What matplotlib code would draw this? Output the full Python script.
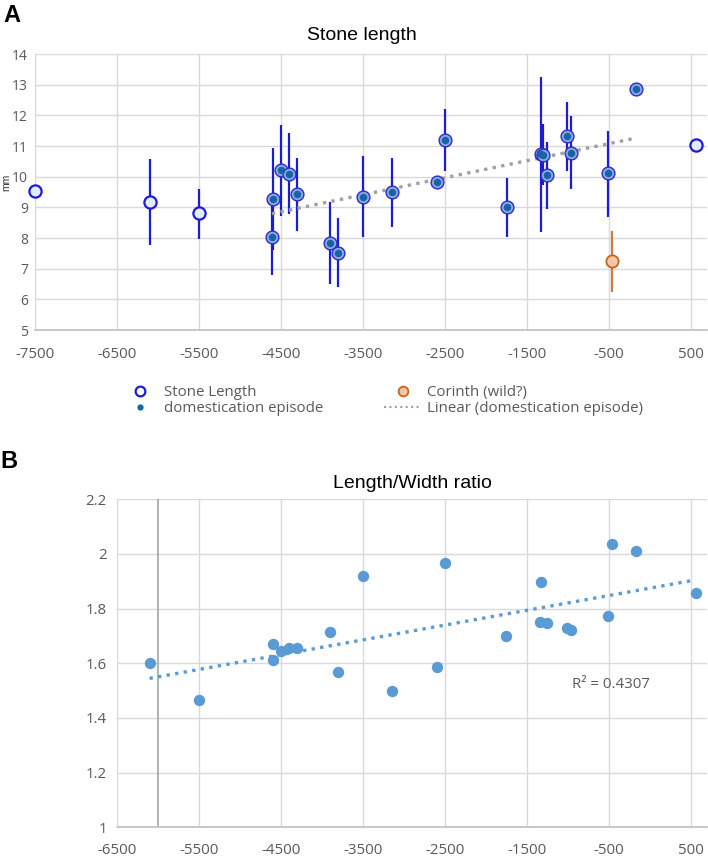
import numpy as np
import matplotlib
matplotlib.use("Agg")
import matplotlib.pyplot as plt
from matplotlib.lines import Line2D

plt.rcParams['font.family'] = ['Open Sans', 'DejaVu Sans']
plt.rcParams['axes.unicode_minus'] = False

# ---- panel A data: stone length (mm) ----
stone_x = [-7500, -6100, -5500, 560]
stone_y = [9.53, 9.17, 8.80, 11.04]
stone_lo = [np.nan, 7.76, 7.98, np.nan]
stone_hi = [np.nan, 10.57, 9.61, np.nan]

dom_x = [-4600, -4610, -4500, -4400, -4300, -3900, -3800, -3500, -3150, -2600,
         -2500, -1750, -1335, -1310, -1260, -1010, -960, -510, -170]
dom_y = [9.27, 8.04, 10.21, 10.10, 9.44, 7.85, 7.52, 9.35, 9.50, 9.84,
         11.20, 9.00, 10.73, 10.70, 10.05, 11.32, 10.78, 10.11, 12.86]
dom_lo = [7.62, 6.78, 8.72, 8.77, 8.24, 6.50, 6.39, 8.02, 8.37, np.nan,
          10.20, 8.02, 8.21, 9.73, 8.95, 10.19, 9.59, 8.70, np.nan]
dom_hi = [10.93, 9.30, 11.67, 11.42, 10.61, 9.18, 8.65, 10.68, 10.62, np.nan,
          12.21, 9.95, 13.24, 11.71, 11.14, 12.43, 11.97, 11.50, np.nan]

corinth_x = [-460]
corinth_y = [7.24]
corinth_lo = [6.23]
corinth_hi = [8.23]

# ---- panel B data: length / width ratio ----
ratio_x = [-6100, -5500, -4600, -4600, -4500, -4400, -4300, -3900, -3800, -3500,
           -3150, -2600, -2500, -1750, -1330, -1340, -1260, -1010, -960, -510,
           -460, -170, 560]
ratio_y = [1.601, 1.467, 1.671, 1.611, 1.645, 1.657, 1.657, 1.713, 1.567, 1.920,
           1.500, 1.586, 1.966, 1.701, 1.896, 1.752, 1.749, 1.730, 1.722, 1.773,
           2.035, 2.012, 1.856]

a_xticks = list(range(-7500, 501, 1000))
a_yticks = list(range(5, 15))
b_xticks = list(range(-6500, 501, 1000))
b_yticks = [1, 1.2, 1.4, 1.6, 1.8, 2, 2.2]

grid_c = '#d9d9d9'
tick_c = '#595959'


def yerr(y, lo, hi):
    y, lo, hi = np.array(y), np.array(lo), np.array(hi)
    return np.nan_to_num(np.vstack([y - lo, hi - y]))


def style_axes(ax, xticks, yticks):
    ax.set_xticks(xticks)
    ax.set_yticks(yticks)
    ax.grid(True, color=grid_c, lw=1.0, zorder=0)
    ax.set_axisbelow(True)
    for s in ['top', 'right', 'left']:
        ax.spines[s].set_visible(False)
    ax.spines['bottom'].set_color('#bfbfbf')
    ax.spines['bottom'].set_linewidth(1.2)
    ax.tick_params(length=0, colors=tick_c, labelsize=10.8)
    ax.yaxis.set_major_formatter(matplotlib.ticker.FormatStrFormatter('%g'))


fig = plt.figure(figsize=(7.08, 8.59), dpi=100)

# ================= panel A =================
axA = fig.add_axes([35 / 708, 1 - 330 / 859, 672.4 / 708, 276 / 859])
axA.set_xlim(-7500, 700)
axA.set_ylim(5, 14)
style_axes(axA, a_xticks, a_yticks)
axA.tick_params(axis='x', pad=12)
axA.tick_params(axis='y', pad=5, labelsize=10)

blue = '#1c1cd6'
axA.errorbar(stone_x, stone_y, yerr=yerr(stone_y, stone_lo, stone_hi), fmt='none',
             ecolor=blue, elinewidth=1.6, zorder=2)
axA.errorbar(dom_x, dom_y, yerr=yerr(dom_y, dom_lo, dom_hi), fmt='none',
             ecolor=blue, elinewidth=1.6, zorder=2)
axA.errorbar(corinth_x, corinth_y, yerr=yerr(corinth_y, corinth_lo, corinth_hi),
             fmt='none', ecolor='#c97a45', elinewidth=1.6, zorder=2)

# linear trend of the domestication episode points
k, b = np.polyfit(dom_x, dom_y, 1)
tx = np.array([min(dom_x), max(dom_x)])
axA.plot(tx, k * tx + b, ls=(0, (1, 1.6)), color='#a0a0a0', lw=2.4, zorder=3)

axA.plot(stone_x, stone_y, 'o', ms=8.8, mfc='#e4ecfb', mec=blue, mew=1.6, zorder=4,
         clip_on=False)
axA.plot(dom_x, dom_y, 'o', ms=9.2, mfc='#8fa8dc', mec='#2a2ad0', mew=1.0, zorder=4)
axA.plot(dom_x, dom_y, 'o', ms=5.4, mfc='#1565a6', mec='none', zorder=5)
axA.plot(corinth_x, corinth_y, 'o', ms=8.8, mfc='#f8c6a6', mec='#c8641e', mew=1.3, zorder=4)

fig.text(362 / 708, 1 - 36 / 859, 'Stone length', ha='center', va='center',
         fontsize=14, color='black', family=['Liberation Sans', 'DejaVu Sans'])
fig.text(1 / 708, 1 - 182 / 859, 'mm', rotation=90, ha='left', va='center',
         fontsize=7.5, color='#333333', family=['Liberation Sans', 'DejaVu Sans'])
fig.text(3 / 708, 1 - 16 / 859, 'A', ha='left', va='center', fontsize=17,
         fontweight='bold', family=['Liberation Sans', 'DejaVu Sans'])

handles = [
    Line2D([], [], ls='none', marker='o', ms=7, mfc='white', mec=blue, mew=1.6),
    Line2D([], [], ls='none', marker='o', ms=4.5, mfc='#1565a6', mec='none'),
    Line2D([], [], ls='none', marker='o', ms=7, mfc='#f8c6a6', mec='#c8641e', mew=1.3),
    Line2D([], [], ls=(0, (1, 1.6)), color='#a0a0a0', lw=1.5),
]
labels = ['Stone Length', 'domestication episode', 'Corinth (wild?)',
          'Linear (domestication episode)']
leg = fig.legend(handles, labels, loc='upper left', ncol=2,
                 bbox_to_anchor=(121 / 708, 1 - 385 / 859), frameon=False,
                 borderpad=0, borderaxespad=0, handlelength=2.5, handletextpad=0.4,
                 columnspacing=4.0, labelspacing=0.1, prop={'size': 10.8})
for t in leg.get_texts():
    t.set_color(tick_c)

# ================= panel B =================
axB = fig.add_axes([116.7 / 708, 1 - 827.3 / 859, 590.7 / 708, 328 / 859])
axB.set_xlim(-6500, 700)
axB.set_ylim(1, 2.2)
style_axes(axB, b_xticks, b_yticks)
axB.tick_params(axis='x', pad=11)
axB.tick_params(axis='y', pad=7)
axB.axvline(-6000, color='#a6a6a6', lw=1.2, zorder=1)

kb, bb = np.polyfit(ratio_x, ratio_y, 1)
txb = np.array([min(ratio_x), 500])
axB.plot(txb, kb * txb + bb, ls=(0, (1, 1.6)), color='#5b9bd5', lw=2.4, zorder=3)
axB.plot(ratio_x, ratio_y, 'o', ms=8.2, mfc='#5b9bd5', mec='none', zorder=4)
axB.text(-950, 1.523, 'R² = 0.4307', ha='left', va='center', fontsize=10.8, color=tick_c)

fig.text(412 / 708, 1 - 483 / 859, 'Length/Width ratio', ha='center', va='center',
         fontsize=14, color='black', family=['Liberation Sans', 'DejaVu Sans'])
fig.text(0 / 708, 1 - 462 / 859, 'B', ha='left', va='center', fontsize=17,
         fontweight='bold', family=['Liberation Sans', 'DejaVu Sans'])

fig.savefig('out.png', dpi=100)
